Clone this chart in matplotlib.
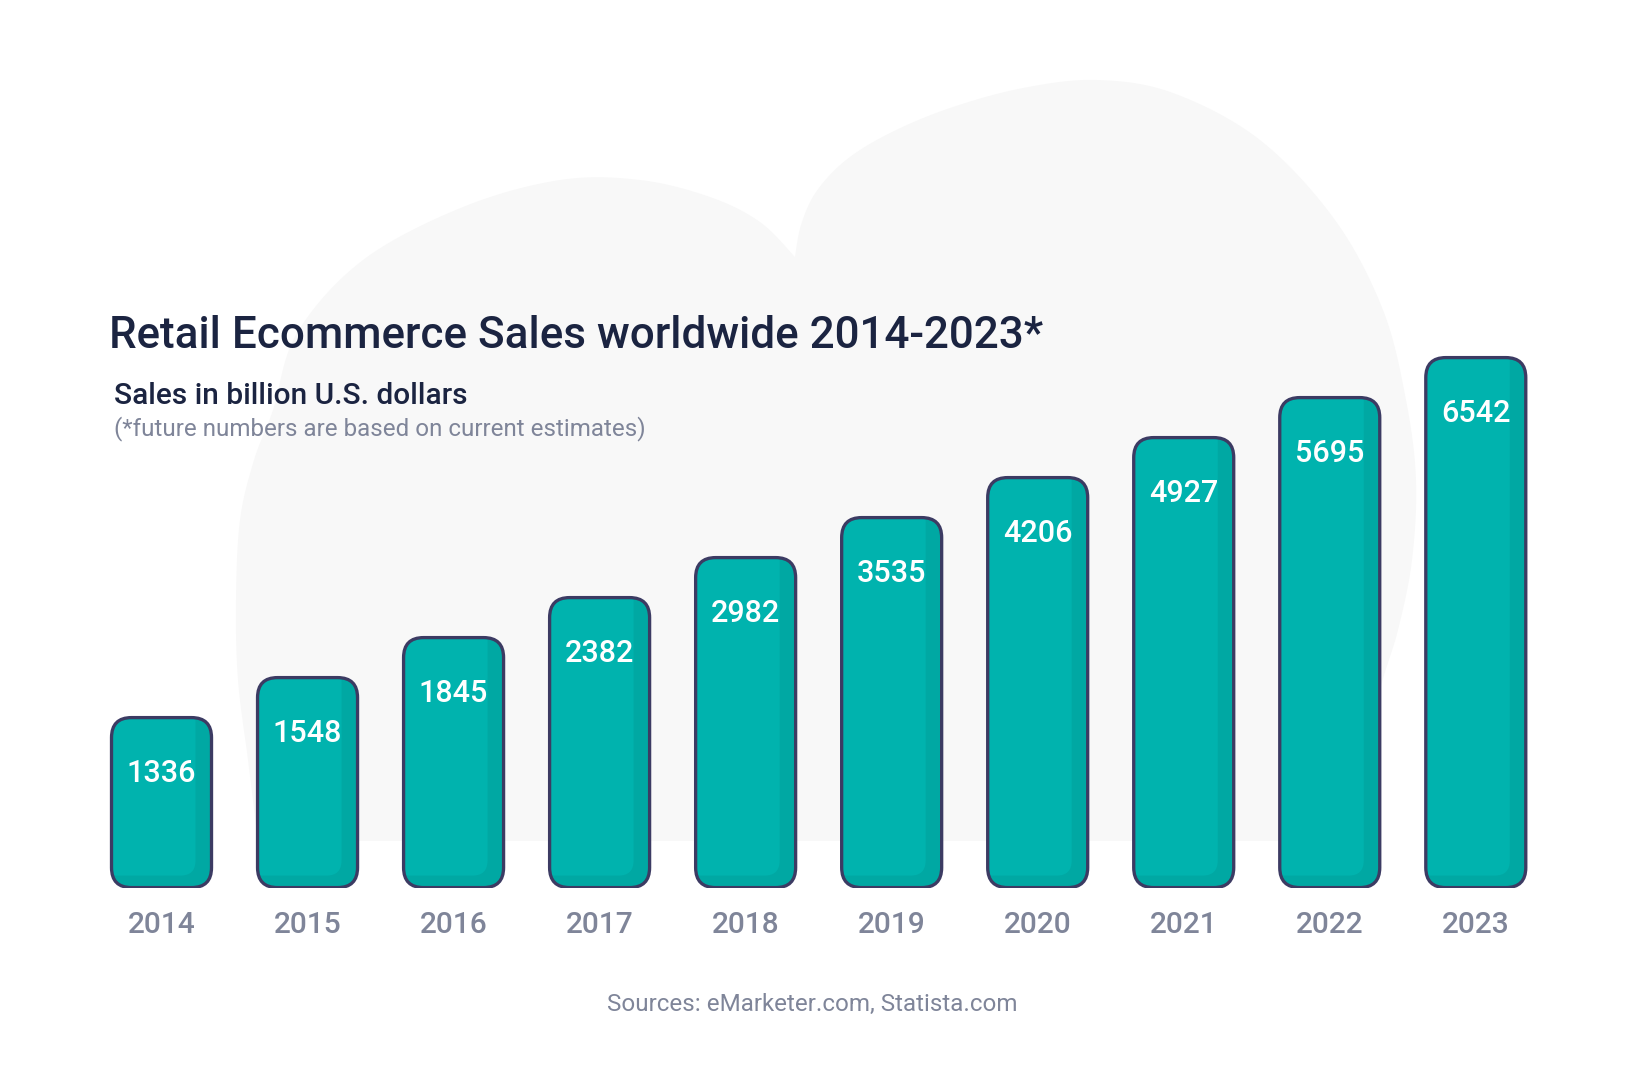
import matplotlib
matplotlib.use("Agg")
import matplotlib.pyplot as plt
import numpy as np
from matplotlib.patches import FancyBboxPatch, Polygon

# data read from the infographic
years = ["2014", "2015", "2016", "2017", "2018", "2019", "2020", "2021", "2022", "2023"]
sales = [1336, 1548, 1845, 2382, 2982, 3535, 4206, 4927, 5695, 6542]
# the infographic draws evenly stepped bars, not bars to scale
bar_heights = [17, 21, 25, 29, 33, 37, 41, 45, 49, 53]

title = "Retail Ecommerce Sales worldwide 2014-2023*"
subtitle = "Sales in billion U.S. dollars"
note = "(*future numbers are based on current estimates)"
source = "Sources: eMarketer.com, Statista.com"

TEAL = "#00b3ae"
TEAL_DARK = "#00a8a3"
OUTLINE = "#3c3b63"
NAVY = "#1b2441"
GREY = "#7f8599"
BLOB = "#f8f8f8"

W, H = 1638, 1092
plt.rcParams["font.family"] = ["Roboto", "DejaVu Sans"]


def catmull_rom(points, n=24):
    pts = np.asarray(points, dtype=float)
    pts = np.vstack([pts[0], pts, pts[-1]])
    out = []
    for i in range(1, len(pts) - 2):
        p0, p1, p2, p3 = pts[i - 1], pts[i], pts[i + 1], pts[i + 2]
        for t in np.linspace(0, 1, n, endpoint=False):
            t2, t3 = t * t, t * t * t
            out.append(0.5 * ((2 * p1) + (-p0 + p2) * t
                              + (2 * p0 - 5 * p1 + 4 * p2 - p3) * t2
                              + (-p0 + 3 * p1 - 3 * p2 + p3) * t3))
    out.append(pts[-2])
    return np.array(out)


fig = plt.figure(figsize=(W / 100, H / 100), dpi=100)
fig.patch.set_facecolor("white")

# background blob, in pixel coordinates
bg = fig.add_axes([0, 0, 1, 1])
bg.set_xlim(0, W)
bg.set_ylim(H, 0)
bg.set_axis_off()
left_lobe = [(258, 841), (248, 760), (238, 680), (236, 600), (240, 520), (254, 460),
             (273, 410), (297, 333), (363, 260), (463, 207), (560, 180), (640, 180),
             (710, 197), (760, 222), (795, 257)]
right_lobe = [(795, 257), (801, 225), (816, 192), (846, 160), (890, 133), (950, 108),
              (1023, 88), (1097, 80), (1173, 93), (1260, 140), (1335, 220), (1383, 310),
              (1406, 400), (1416, 480), (1412, 560), (1398, 630), (1380, 690),
              (1364, 770), (1356, 841)]
outline = np.vstack([catmull_rom(left_lobe), catmull_rom(right_lobe)])
bg.add_patch(Polygon(outline, closed=True, facecolor=BLOB, edgecolor="none"))

# bar axes
x = np.arange(len(years))
ax = fig.add_axes([88.5 / W, (H - 887.6) / H, 1460.3 / W, 600 / H])
ax.set_xlim(-0.5, len(years) - 0.5)
ax.set_ylim(0, 60)
ax.set_axis_off()
ax.patch.set_alpha(0)

px_x = 1460.3 / len(years)   # pixels per x unit
px_y = 10.0                  # pixels per y unit
aspect = px_x / px_y
width = 100 / px_x
lw = 3.3 * 72 / 100

for xi, h, v, yr in zip(x, bar_heights, sales, years):
    outer = FancyBboxPatch((xi - width / 2, 0), width, h,
                           boxstyle=f"round,pad=0,rounding_size={20 / px_x}",
                           mutation_aspect=aspect, facecolor=TEAL_DARK,
                           edgecolor="none", zorder=2)
    ax.add_patch(outer)
    inner = FancyBboxPatch((xi - width / 2 - 0.2, 12 / px_y), width + 0.2 - 16 / px_x, h + 5,
                           boxstyle=f"round,pad=0,rounding_size={15 / px_x}",
                           mutation_aspect=aspect, facecolor=TEAL,
                           edgecolor="none", zorder=3)
    ax.add_patch(inner)
    inner.set_clip_path(outer)
    edge = FancyBboxPatch((xi - width / 2, 0), width, h,
                          boxstyle=f"round,pad=0,rounding_size={20 / px_x}",
                          mutation_aspect=aspect, facecolor="none",
                          edgecolor=OUTLINE, linewidth=lw, zorder=4)
    ax.add_patch(edge)

    ax.text(xi, h - 6.4, str(v), ha="center", va="baseline", color="white",
            fontsize=22, fontweight="medium", zorder=5)
    ax.text(xi, -4.54, yr, ha="center", va="baseline", color=GREY,
            fontsize=21.5, fontweight="medium", clip_on=False)


def fx(px):
    return px / W


def fy(py):
    return 1 - py / H


fig.text(fx(109), fy(348), title, ha="left", va="baseline", color=NAVY,
         fontsize=31.7, fontweight="medium")
fig.text(fx(114), fy(404), subtitle, ha="left", va="baseline", color=NAVY,
         fontsize=21.5, fontweight="medium")
fig.text(fx(114), fy(435), note, ha="left", va="baseline", color=GREY,
         fontsize=17.4)
fig.text(fx(812), fy(1011), source, ha="center", va="baseline", color=GREY,
         fontsize=17.4)

fig.savefig("out.png", dpi=100, facecolor="white")
